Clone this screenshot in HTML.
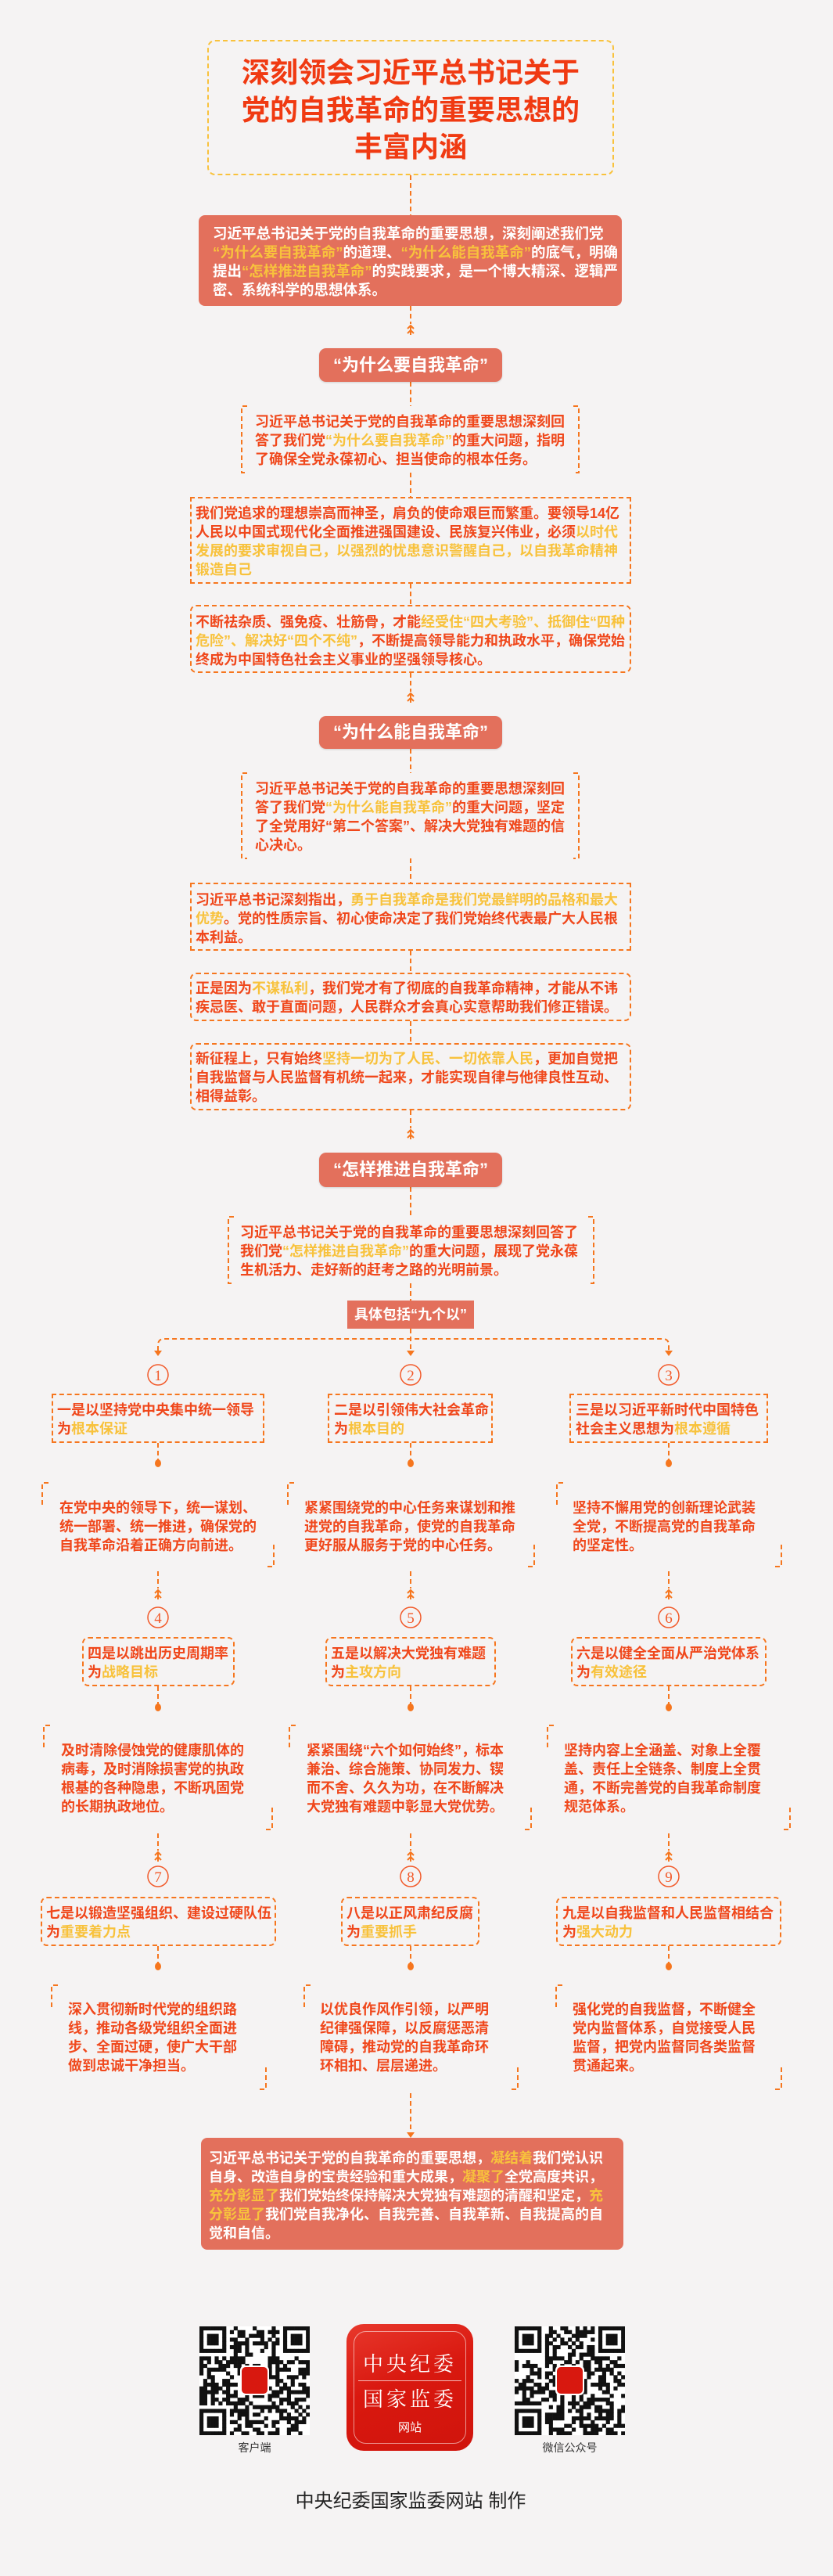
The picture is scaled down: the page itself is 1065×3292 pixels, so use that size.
<!DOCTYPE html>
<html><head><meta charset="utf-8">
<style>
*{margin:0;padding:0;box-sizing:border-box}
body{width:1065px;height:3292px;background:#f5f3f3;position:relative;overflow:hidden;font-family:"Liberation Sans","Noto Sans CJK SC",sans-serif}
.a{position:absolute}
.tx{position:absolute;white-space:nowrap;font-size:18px;line-height:24px;font-weight:bold;color:#f0481c}
.w{color:#fff}
.y{color:#f8c23c}
.box{position:absolute;border:2px dashed #f6761e}
.r{border-radius:8px}
.fill{position:absolute;background:#e3705c;border-radius:8px}
.pill{position:absolute;background:#e3705c;border-radius:9px;color:#fff;font-weight:bold;font-size:22px;text-align:center;box-shadow:0 1px 2px rgba(0,0,0,.15)}
</style></head><body>

<svg class="a" style="left:0;top:0" width="1065" height="3292">
<defs>
<g id="mk"><path d="M-4,-2 L0,-6 L4,-2 M-4,4 L0,0 L4,4 M0,-6 V6" stroke="#f6761e" stroke-width="2" fill="none"/></g>
</defs>
<g stroke="#f6761e" stroke-width="2" stroke-dasharray="6 4" fill="none">
<path d="M525,224V275"/>
<path d="M525,391V414"/>
<path d="M525,488V519"/>
<path d="M525,604V635"/>
<path d="M525,746V773"/>
<path d="M525,860V884"/>
<path d="M525,957V988"/>
<path d="M525,1097V1128"/>
<path d="M525,1215V1243"/>
<path d="M525,1305V1333"/>
<path d="M525,1419V1442"/>
<path d="M525,1517V1555"/>
<path d="M525,1640V1663"/>
<path d="M525,1698V1726"/>
<path d="M202,1726V1719Q202,1711 210,1711H847Q855,1711 855,1719V1726"/>
<path d="M202,1844V1866M525,1844V1866M855,1844V1866"/>
<path d="M202,2008V2030M525,2008V2030M855,2008V2030"/>
<path d="M202,2155V2178M525,2155V2178M855,2155V2178"/>
<path d="M202,2343V2365M525,2343V2365M855,2343V2365"/>
<path d="M202,2487V2509M525,2487V2509M855,2487V2509"/>
<path d="M525,2675V2725"/>
<!-- brackets A D H -->
<path d="M316,519H309V604H316M733,519H740V604H733"/>
<path d="M316,988H309V1097H316M733,988H740V1097H733"/>
<path d="M299,1555H292V1640H299M752,1555H759V1640H752"/>
<!-- col brackets row1 -->
<path d="M54,1923V1895H62M342,2002H350V1973"/>
<path d="M368,1923V1895H376M675,2002H683V1973"/>
<path d="M712,1923V1895H720M991,2002H999V1973"/>
<!-- row2 -->
<path d="M56,2233V2205H64M340,2338H348V2309"/>
<path d="M370,2233V2205H378M671,2338H679V2309"/>
<path d="M700,2233V2205H708M1002,2338H1010V2309"/>
<!-- row3 -->
<path d="M66,2565V2537H74M332,2670H340V2641"/>
<path d="M389,2565V2537H397M654,2670H662V2641"/>
<path d="M711,2565V2537H719M991,2670H999V2641"/>
</g>
<g fill="#f6761e">
<path d="M197,1726H207L202,1733Z"/><path d="M520,1726H530L525,1733Z"/><path d="M850,1726H860L855,1733Z"/>
<path d="M520,2725H530L525,2732Z"/>
<ellipse cx="202" cy="1870" rx="4" ry="5"/><ellipse cx="525" cy="1870" rx="4" ry="5"/><ellipse cx="855" cy="1870" rx="4" ry="5"/>
<ellipse cx="202" cy="2182" rx="4" ry="5"/><ellipse cx="525" cy="2182" rx="4" ry="5"/><ellipse cx="855" cy="2182" rx="4" ry="5"/>
<ellipse cx="202" cy="2513" rx="4" ry="5"/><ellipse cx="525" cy="2513" rx="4" ry="5"/><ellipse cx="855" cy="2513" rx="4" ry="5"/>
</g>
<use href="#mk" x="525" y="422"/><use href="#mk" x="525" y="892"/><use href="#mk" x="525" y="1450"/>
<use href="#mk" x="202" y="2038"/><use href="#mk" x="525" y="2038"/><use href="#mk" x="855" y="2038"/>
<use href="#mk" x="202" y="2373"/><use href="#mk" x="525" y="2373"/><use href="#mk" x="855" y="2373"/>
<g fill="none" stroke="#f25a2a" stroke-width="1.5">
<circle cx="202" cy="1757" r="13"/><circle cx="525" cy="1757" r="13"/><circle cx="855" cy="1757" r="13"/>
<circle cx="202" cy="2067" r="13"/><circle cx="525" cy="2067" r="13"/><circle cx="855" cy="2067" r="13"/>
<circle cx="202" cy="2398" r="13"/><circle cx="525" cy="2398" r="13"/><circle cx="855" cy="2398" r="13"/>
</g>
<g fill="#f25a2a" font-family="Liberation Serif,serif" font-size="19" text-anchor="middle">
<text x="202" y="1764">1</text><text x="525" y="1764">2</text><text x="855" y="1764">3</text>
<text x="202" y="2074">4</text><text x="525" y="2074">5</text><text x="855" y="2074">6</text>
<text x="202" y="2405">7</text><text x="525" y="2405">8</text><text x="855" y="2405">9</text>
</g>
</svg>

<!-- Title -->
<div class="a" style="left:265px;top:51px;width:520px;height:173px;border:2px dashed #f9c23c;border-radius:10px"></div>
<div class="a" style="left:265px;top:69px;width:520px;text-align:center;font-size:36px;line-height:47.5px;font-weight:bold;color:#f03a12">深刻领会习近平总书记关于<br>党的自我革命的重要思想的<br>丰富内涵</div>

<div class="fill" style="left:254px;top:275px;width:541px;height:116px"></div>
<div class="tx w" style="left:272px;top:287px;font-size:18.5px">习近平总书记关于党的自我革命的重要思想，深刻阐述我们党<br><span class="y">“为什么要自我革命”</span>的道理、<span class="y">“为什么能自我革命”</span>的底气，明确<br>提出<span class="y">“怎样推进自我革命”</span>的实践要求，是一个博大精深、逻辑严<br>密、系统科学的思想体系。</div>

<div class="pill" style="left:408px;top:445px;width:234px;height:43px;line-height:43px">“为什么要自我革命”</div>

<div class="tx" style="left:326px;top:527px">习近平总书记关于党的自我革命的重要思想深刻回<br>答了我们党<span class="y">“为什么要自我革命”</span>的重大问题，指明<br>了确保全党永葆初心、担当使命的根本任务。</div>

<div class="box" style="left:243px;top:635px;width:564px;height:111px"></div>
<div class="tx" style="left:250px;top:644px">我们党追求的理想崇高而神圣，肩负的使命艰巨而繁重。要领导14亿<br>人民以中国式现代化全面推进强国建设、民族复兴伟业，必须<span class="y">以时代<br>发展的要求审视自己，以强烈的忧患意识警醒自己，以自我革命精神<br>锻造自己</span></div>

<div class="box r" style="left:243px;top:773px;width:564px;height:87px"></div>
<div class="tx" style="left:250px;top:783px">不断祛杂质、强免疫、壮筋骨，才能<span class="y">经受住“四大考验”、抵御住“四种<br>危险”、解决好“四个不纯”</span>，不断提高领导能力和执政水平，确保党始<br>终成为中国特色社会主义事业的坚强领导核心。</div>

<div class="pill" style="left:408px;top:915px;width:234px;height:42px;line-height:42px">“为什么能自我革命”</div>

<div class="tx" style="left:326px;top:996px">习近平总书记关于党的自我革命的重要思想深刻回<br>答了我们党<span class="y">“为什么能自我革命”</span>的重大问题，坚定<br>了全党用好“第二个答案”、解决大党独有难题的信<br>心决心。</div>

<div class="box" style="left:243px;top:1128px;width:564px;height:87px"></div>
<div class="tx" style="left:250px;top:1138px">习近平总书记深刻指出，<span class="y">勇于自我革命是我们党最鲜明的品格和最大<br>优势</span>。党的性质宗旨、初心使命决定了我们党始终代表最广大人民根<br>本利益。</div>

<div class="box r" style="left:243px;top:1243px;width:564px;height:62px"></div>
<div class="tx" style="left:250px;top:1251px">正是因为<span class="y">不谋私利</span>，我们党才有了彻底的自我革命精神，才能从不讳<br>疾忌医、敢于直面问题，人民群众才会真心实意帮助我们修正错误。</div>

<div class="box r" style="left:243px;top:1333px;width:564px;height:86px"></div>
<div class="tx" style="left:250px;top:1341px">新征程上，只有始终<span class="y">坚持一切为了人民、一切依靠人民</span>，更加自觉把<br>自我监督与人民监督有机统一起来，才能实现自律与他律良性互动、<br>相得益彰。</div>

<div class="pill" style="left:408px;top:1473px;width:234px;height:44px;line-height:44px">“怎样推进自我革命”</div>

<div class="tx" style="left:307px;top:1563px">习近平总书记关于党的自我革命的重要思想深刻回答了<br>我们党<span class="y">“怎样推进自我革命”</span>的重大问题，展现了党永葆<br>生机活力、走好新的赶考之路的光明前景。</div>

<div class="a" style="left:444px;top:1662px;width:162px;height:36px;background:#e3705c;color:#fff;font-weight:bold;font-size:18px;line-height:36px;text-align:center">具体包括“九个以”</div>

<!-- row1 -->
<div class="box" style="left:66px;top:1781px;width:272px;height:63px"></div>
<div class="tx" style="left:73px;top:1790px">一是以坚持党中央集中统一领导<br>为<span class="y">根本保证</span></div>
<div class="box" style="left:419px;top:1781px;width:211px;height:63px"></div>
<div class="tx" style="left:427px;top:1790px">二是以引领伟大社会革命<br>为<span class="y">根本目的</span></div>
<div class="box" style="left:728px;top:1781px;width:254px;height:63px"></div>
<div class="tx" style="left:736px;top:1790px">三是以习近平新时代中国特色<br>社会主义思想为<span class="y">根本遵循</span></div>

<div class="tx" style="left:76px;top:1915px">在党中央的领导下，统一谋划、<br>统一部署、统一推进，确保党的<br>自我革命沿着正确方向前进。</div>
<div class="tx" style="left:389px;top:1915px">紧紧围绕党的中心任务来谋划和推<br>进党的自我革命，使党的自我革命<br>更好服从服务于党的中心任务。</div>
<div class="tx" style="left:732px;top:1915px">坚持不懈用党的创新理论武装<br>全党，不断提高党的自我革命<br>的坚定性。</div>

<!-- row2 -->
<div class="box r" style="left:105px;top:2092px;width:195px;height:63px"></div>
<div class="tx" style="left:112px;top:2101px">四是以跳出历史周期率<br>为<span class="y">战略目标</span></div>
<div class="box r" style="left:416px;top:2092px;width:218px;height:63px"></div>
<div class="tx" style="left:423px;top:2101px">五是以解决大党独有难题<br>为<span class="y">主攻方向</span></div>
<div class="box r" style="left:730px;top:2092px;width:250px;height:63px"></div>
<div class="tx" style="left:737px;top:2101px">六是以健全全面从严治党体系<br>为<span class="y">有效途径</span></div>

<div class="tx" style="left:78px;top:2225px">及时清除侵蚀党的健康肌体的<br>病毒，及时消除损害党的执政<br>根基的各种隐患，不断巩固党<br>的长期执政地位。</div>
<div class="tx" style="left:392px;top:2225px">紧紧围绕“六个如何始终”，标本<br>兼治、综合施策、协同发力、锲<br>而不舍、久久为功，在不断解决<br>大党独有难题中彰显大党优势。</div>
<div class="tx" style="left:721px;top:2225px">坚持内容上全涵盖、对象上全覆<br>盖、责任上全链条、制度上全贯<br>通，不断完善党的自我革命制度<br>规范体系。</div>

<!-- row3 -->
<div class="box r" style="left:52px;top:2424px;width:301px;height:63px"></div>
<div class="tx" style="left:59px;top:2433px">七是以锻造坚强组织、建设过硬队伍<br>为<span class="y">重要着力点</span></div>
<div class="box r" style="left:436px;top:2424px;width:177px;height:63px"></div>
<div class="tx" style="left:443px;top:2433px">八是以正风肃纪反腐<br>为<span class="y">重要抓手</span></div>
<div class="box r" style="left:711px;top:2424px;width:288px;height:63px"></div>
<div class="tx" style="left:719px;top:2433px">九是以自我监督和人民监督相结合<br>为<span class="y">强大动力</span></div>

<div class="tx" style="left:87px;top:2556px">深入贯彻新时代党的组织路<br>线，推动各级党组织全面进<br>步、全面过硬，使广大干部<br>做到忠诚干净担当。</div>
<div class="tx" style="left:409px;top:2556px">以优良作风作引领，以严明<br>纪律强保障，以反腐惩恶清<br>障碍，推动党的自我革命环<br>环相扣、层层递进。</div>
<div class="tx" style="left:732px;top:2556px">强化党的自我监督，不断健全<br>党内监督体系，自觉接受人民<br>监督，把党内监督同各类监督<br>贯通起来。</div>

<div class="fill" style="left:257px;top:2732px;width:540px;height:143px"></div>
<div class="tx w" style="left:267px;top:2746px">习近平总书记关于党的自我革命的重要思想，<span class="y">凝结着</span>我们党认识<br>自身、改造自身的宝贵经验和重大成果，<span class="y">凝聚了</span>全党高度共识，<br><span class="y">充分彰显了</span>我们党始终保持解决大党独有难题的清醒和坚定，<span class="y">充<br>分彰显了</span>我们党自我净化、自我完善、自我革新、自我提高的自<br>觉和自信。</div>

<!-- footer -->
<svg id="q1" class="a" style="left:255px;top:2973px" width="141" height="139"></svg>
<svg id="q2" class="a" style="left:658px;top:2973px" width="141" height="139"></svg>
<div class="a" style="left:443px;top:2970px;width:162px;height:162px;border-radius:22px;background:linear-gradient(160deg,#e8382c 0%,#d9180f 45%,#d0140c 100%)"></div>
<div class="a" style="left:452px;top:2979px;width:144px;height:144px;border-radius:16px;border:1px solid rgba(255,255,255,.55)"></div>
<div class="a" style="left:458px;top:3042px;width:132px;height:1px;background:rgba(255,255,255,.7)"></div>
<div class="a" style="left:443px;top:3006px;width:162px;text-align:center;color:#fff;font-family:'Liberation Serif','Noto Serif CJK SC',serif;font-size:26px;line-height:32px;letter-spacing:4px">中央纪委</div>
<div class="a" style="left:443px;top:3051px;width:162px;text-align:center;color:#fff;font-family:'Liberation Serif','Noto Serif CJK SC',serif;font-size:26px;line-height:32px;letter-spacing:4px">国家监委</div>
<div class="a" style="left:443px;top:3093px;width:162px;text-align:center;color:#fff;font-size:15px;line-height:20px">网站</div>
<div class="a" style="left:255px;top:3118px;width:141px;text-align:center;font-size:14px;color:#333">客户端</div>
<div class="a" style="left:658px;top:3118px;width:141px;text-align:center;font-size:14px;color:#333">微信公众号</div>
<div class="a" style="left:0;top:3182px;width:1050px;text-align:center;font-size:24px;line-height:30px;color:#222">中央纪委国家监委网站 制作</div>

<script>
function qr(id,seed){
 var s=document.getElementById(id),N=29,m=141/N,h='<rect width="141" height="139" fill="#fff"/>';
 var r=seed;function rnd(){r=(r*1103515245+12345)%2147483648;return r/2147483648;}
 function fin(x,y){return x<8&&y<8||x>=N-8&&y<8||x<8&&y>=N-8;}
 for(var y=0;y<N;y++)for(var x=0;x<N;x++){
  var on;
  if(fin(x,y)){var fx=x<8?x:x-(N-7),fy=y<8?y:y-(N-7);
   if(fx>6||fy>6||fx<0||fy<0)on=false;else on=(fx==0||fx==6||fy==0||fy==6||(fx>=2&&fx<=4&&fy>=2&&fy<=4));}
  else on=rnd()<0.5;
  if(on)h+='<rect x="'+(x*m).toFixed(2)+'" y="'+(y*m*139/141).toFixed(2)+'" width="'+(m+0.3).toFixed(2)+'" height="'+(m+0.3).toFixed(2)+'" fill="#111"/>';
 }
 h+='<rect x="52" y="50" width="37" height="38" rx="6" fill="#fff"/><rect x="54" y="52" width="33" height="34" rx="5" fill="#d8180f"/>';
 s.innerHTML=h;
}
qr('q1',12345);qr('q2',98765);
</script>
</body></html>
